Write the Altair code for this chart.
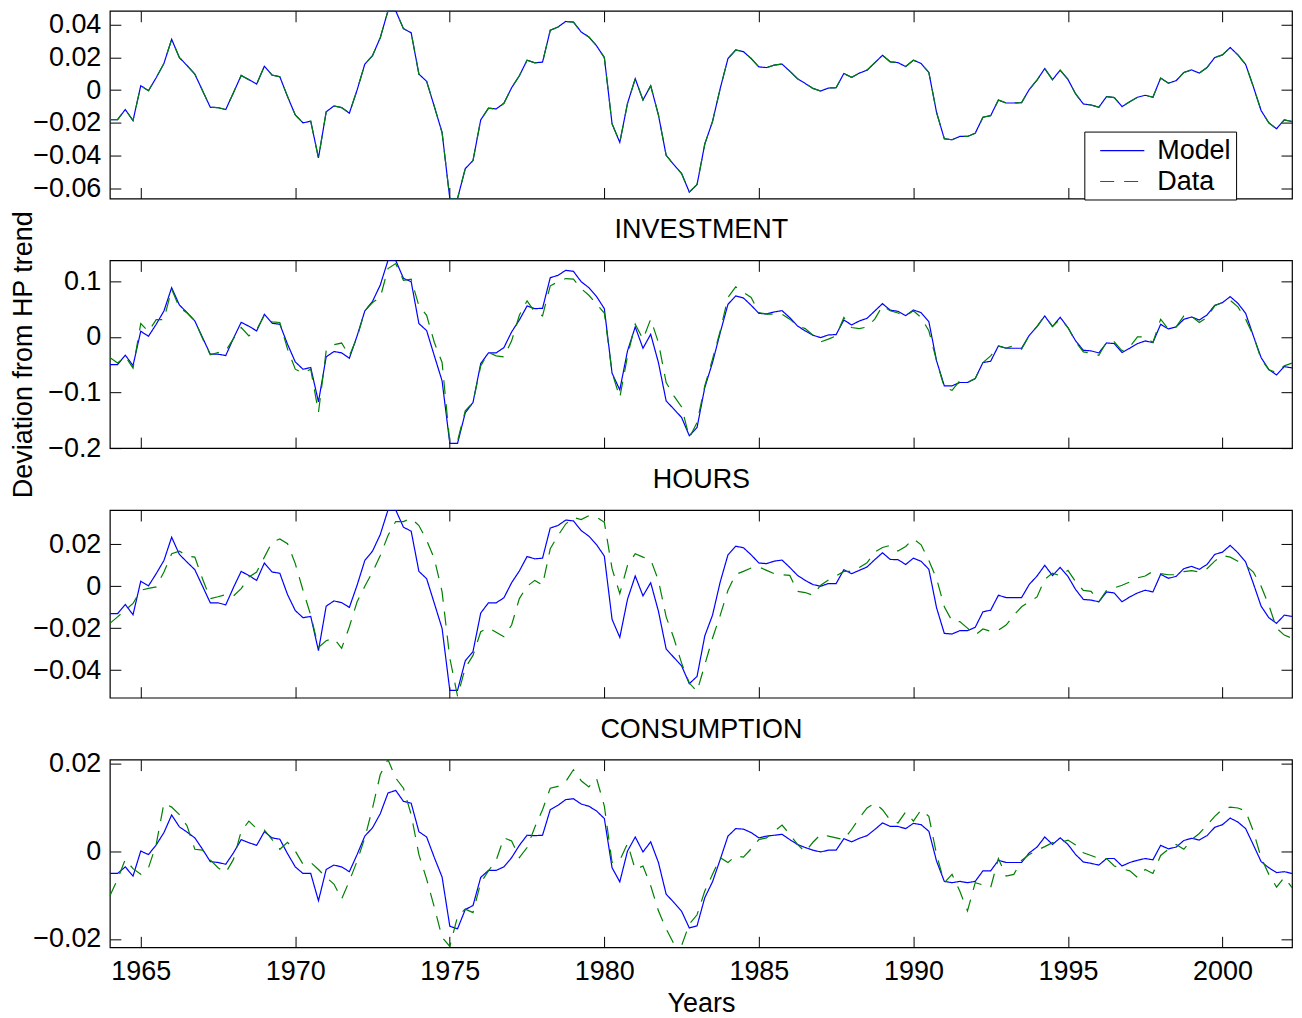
import altair as alt
import pandas as pd

# quarterly dates 1964Q1 .. 2002Q2
years = [1964 + i / 4 for i in range(154)]

# values in units of 0.01 (deviation from HP trend)
output_model = [
    -1.80, -1.80, -1.19, -1.86, 0.26, -0.04, 0.75, 1.62, 3.09, 1.98,
    1.49, 0.97, -0.04, -1.05, -1.07, -1.19, -0.16, 0.89, 0.63, 0.36,
    1.45, 0.91, 0.81, -0.40, -1.52, -2.00, -1.90, -4.14, -1.33, -0.97,
    -1.07, -1.41, 0.00, 1.58, 2.10, 3.19, 4.83, 4.83, 3.74, 3.49,
    0.97, 0.53, -1.01, -2.59, -6.61, -6.61, -4.79, -4.30, -1.82, -1.11,
    -1.15, -0.81, 0.14, 0.87, 1.82, 1.66, 1.70, 3.64, 3.84, 4.18,
    4.14, 3.54, 3.23, 2.69, 1.98, -2.06, -3.19, -0.81, 0.69, -0.61,
    0.26, -1.52, -3.98, -4.55, -5.09, -6.22, -5.76, -3.29, -1.92, 0.10,
    1.92, 2.44, 2.34, 1.92, 1.41, 1.37, 1.52, 1.58, 1.15, 0.69,
    0.40, 0.10, -0.06, 0.12, 0.14, 1.01, 0.77, 1.03, 1.21, 1.66,
    2.12, 1.72, 1.67, 1.43, 1.82, 1.62, 1.07, -1.37, -2.97, -3.03,
    -2.83, -2.83, -2.63, -1.66, -1.56, -0.61, -0.79, -0.79, -0.77, 0.04,
    0.61, 1.31, 0.63, 1.21, 0.65, -0.24, -0.85, -0.91, -1.05, -0.40,
    -0.46, -1.01, -0.71, -0.44, -0.32, -0.44, 0.73, 0.42, 0.57, 1.07,
    1.23, 1.03, 1.37, 1.98, 2.14, 2.59, 2.14, 1.56, 0.20, -1.25,
    -2.00, -2.36, -1.82, -1.92,
]
output_data = [
    -1.80, -1.80, -1.19, -1.86, 0.26, -0.04, 0.75, 1.62, 3.09, 1.98,
    1.49, 0.97, -0.04, -1.05, -1.07, -1.19, -0.16, 0.89, 0.63, 0.36,
    1.45, 0.91, 0.81, -0.40, -1.52, -2.00, -1.90, -4.14, -1.33, -0.97,
    -1.07, -1.41, 0.00, 1.58, 2.10, 3.19, 4.83, 4.83, 3.74, 3.49,
    0.97, 0.53, -1.01, -2.59, -6.61, -6.61, -4.79, -4.30, -1.82, -1.11,
    -1.15, -0.81, 0.14, 0.87, 1.82, 1.66, 1.70, 3.64, 3.84, 4.18,
    4.14, 3.54, 3.23, 2.69, 1.98, -2.06, -3.19, -0.81, 0.69, -0.61,
    0.26, -1.52, -3.98, -4.55, -5.09, -6.22, -5.76, -3.29, -1.92, 0.10,
    1.92, 2.44, 2.34, 1.92, 1.41, 1.37, 1.52, 1.58, 1.15, 0.69,
    0.40, 0.10, -0.06, 0.12, 0.14, 1.01, 0.77, 1.03, 1.21, 1.66,
    2.12, 1.72, 1.67, 1.43, 1.82, 1.62, 1.07, -1.37, -2.97, -3.03,
    -2.83, -2.83, -2.63, -1.66, -1.56, -0.61, -0.79, -0.79, -0.77, 0.04,
    0.61, 1.31, 0.63, 1.21, 0.65, -0.24, -0.85, -0.91, -1.05, -0.40,
    -0.46, -1.01, -0.71, -0.44, -0.32, -0.44, 0.73, 0.42, 0.57, 1.07,
    1.23, 1.03, 1.37, 1.98, 2.14, 2.59, 2.14, 1.56, 0.20, -1.25,
    -2.00, -2.36, -1.82, -1.92,
]
investment_model = [
    -4.97, -4.97, -3.29, -5.15, 1.02, 0.12, 2.28, 4.67, 8.86, 5.75,
    4.37, 2.87, -0.12, -3.11, -3.11, -3.35, -0.24, 2.63, 1.92, 1.08,
    4.07, 2.46, 2.28, -1.32, -4.49, -5.81, -5.51, -11.68, -3.59, -2.63,
    -2.87, -3.83, 0.18, 4.67, 6.41, 9.34, 13.77, 13.77, 10.54, 9.94,
    2.40, 1.14, -3.41, -7.90, -19.16, -19.16, -13.65, -11.80, -4.79, -2.87,
    -2.87, -1.92, 0.90, 3.05, 5.57, 5.09, 5.15, 10.66, 11.08, 11.98,
    11.80, 9.94, 8.86, 7.25, 5.09, -6.53, -9.52, -2.51, 1.80, -2.04,
    0.48, -4.61, -11.50, -12.99, -14.49, -17.78, -16.29, -9.10, -4.61, 0.78,
    5.87, 7.37, 7.01, 5.69, 4.25, 4.13, 4.49, 4.73, 3.47, 1.98,
    1.08, 0.30, -0.12, 0.36, 0.42, 3.05, 2.16, 2.87, 3.35, 4.67,
    5.99, 4.82, 4.61, 3.83, 4.85, 4.37, 2.75, -4.31, -8.80, -8.80,
    -8.20, -8.20, -7.49, -4.61, -4.37, -1.62, -2.04, -2.04, -2.04, 0.30,
    1.86, 3.77, 1.86, 3.53, 1.68, -0.72, -2.40, -2.51, -2.87, -1.08,
    -1.20, -2.81, -2.04, -1.20, -0.72, -1.02, 2.28, 1.44, 1.80, 3.17,
    3.59, 3.05, 3.95, 5.69, 6.17, 7.25, 6.05, 4.25, 0.18, -3.71,
    -5.87, -6.83, -5.33, -5.57,
]
investment_data = [
    -3.7, -4.7, -3.5, -5.6, 2.4, 1.0, 3.1, 3.1, 8.6, 5.3,
    4.3, 2.9, -0.3, -3.2, -2.8, -2.5, -0.3, 1.7, 0.2, 1.3,
    3.9, 2.7, 2.6, -2.2, -5.8, -6.5, -5.8, -13.6, -2.5, -1.4,
    -1.1, -3.4, -0.1, 4.7, 6.2, 7.1, 12.3, 13.2, 10.2, 10.4,
    5.6, 3.9, -1.0, -4.6, -19.0, -18.7, -13.3, -11.8, -5.2, -2.8,
    -3.4, -3.6, -0.7, 3.9, 6.5, 4.5, 3.8, 9.2, 9.9, 10.5,
    10.4, 8.7, 7.5, 5.9, 4.3, -6.4, -10.9, -3.4, 2.3, -0.4,
    3.2, -1.0, -8.2, -10.6, -12.6, -18.1, -15.4, -8.8, -4.0, 1.1,
    7.1, 9.0, 8.0, 7.1, 4.4, 4.1, 4.1, 4.1, 3.2, 2.0,
    1.5, 0.3, -0.9, -0.4, 0.2, 3.5, 1.7, 1.5, 1.8, 3.2,
    5.6, 4.7, 4.3, 3.8, 4.7, 3.5, 1.1, -4.3, -9.1, -9.6,
    -7.9, -8.2, -7.5, -4.6, -3.4, -1.6, -2.0, -1.6, -2.2, 0.3,
    1.9, 3.8, 1.9, 3.2, 1.7, -0.9, -2.7, -2.9, -3.3, -0.9,
    -0.9, -2.5, -1.8, 0.0, 0.0, -1.0, 3.2, 1.4, 1.8, 3.8,
    3.7, 2.6, 3.5, 5.6, 6.2, 6.6, 5.4, 3.2, 0.2, -4.0,
    -5.9, -6.4, -5.2, -4.7,
]
hours_model = [
    -1.31, -1.31, -0.87, -1.36, 0.24, 0.02, 0.60, 1.23, 2.34, 1.52,
    1.15, 0.79, 0.00, -0.79, -0.79, -0.89, -0.06, 0.71, 0.51, 0.28,
    1.11, 0.68, 0.62, -0.40, -1.16, -1.50, -1.44, -3.07, -0.95, -0.70,
    -0.78, -1.01, 0.05, 1.23, 1.68, 2.47, 3.64, 3.64, 2.82, 2.63,
    0.71, 0.36, -0.82, -2.01, -4.97, -4.97, -3.56, -3.12, -1.28, -0.79,
    -0.79, -0.55, 0.17, 0.73, 1.42, 1.31, 1.34, 2.78, 2.90, 3.16,
    3.12, 2.66, 2.39, 1.98, 1.44, -1.58, -2.44, -0.62, 0.49, -0.46,
    0.17, -1.19, -2.99, -3.40, -3.80, -4.65, -4.30, -2.37, -1.38, 0.21,
    1.50, 1.91, 1.84, 1.50, 1.11, 1.08, 1.20, 1.25, 0.90, 0.52,
    0.28, 0.08, 0.00, 0.13, 0.13, 0.79, 0.60, 0.76, 0.92, 1.27,
    1.60, 1.28, 1.27, 1.04, 1.34, 1.19, 0.81, -1.03, -2.25, -2.28,
    -2.12, -2.12, -1.96, -1.22, -1.14, -0.43, -0.54, -0.54, -0.54, 0.09,
    0.49, 1.00, 0.51, 0.90, 0.47, -0.16, -0.63, -0.66, -0.74, -0.27,
    -0.32, -0.74, -0.51, -0.32, -0.19, -0.27, 0.57, 0.38, 0.47, 0.84,
    0.95, 0.81, 1.04, 1.52, 1.63, 1.95, 1.60, 1.16, 0.13, -0.95,
    -1.50, -1.77, -1.38, -1.44,
]
hours_data = [
    -1.77, -1.46, -1.14, -0.82, -0.19, -0.10, -0.03, 0.68, 1.55, 1.68,
    1.45, 1.39, 0.35, -0.59, -0.50, -0.40, -0.46, -0.11, 0.44, 0.68,
    1.39, 2.10, 2.26, 2.03, 1.08, -0.19, -1.38, -2.92, -2.60, -2.48,
    -2.96, -1.93, -0.74, 0.00, 0.68, 1.47, 2.42, 3.09, 3.09, 3.24,
    2.90, 2.20, 1.31, -0.27, -3.43, -5.25, -3.90, -3.30, -2.17, -1.98,
    -2.20, -2.41, -1.85, -0.59, 0.00, 0.28, 0.05, 1.79, 2.42, 2.97,
    3.29, 3.18, 3.37, 3.30, 3.05, 0.84, -0.35, 1.00, 1.55, 1.39,
    1.27, 0.28, -1.46, -2.48, -3.67, -4.62, -5.02, -3.75, -2.48, -1.38,
    -0.19, 0.57, 0.71, 0.87, 0.92, 0.76, 0.60, 0.55, 0.52, -0.24,
    -0.30, -0.43, 0.05, 0.30, 0.49, 0.71, 0.71, 0.90, 1.12, 1.63,
    1.85, 1.95, 1.68, 1.90, 2.26, 1.98, 1.23, 0.36, -0.98, -1.66,
    -1.69, -2.00, -2.33, -2.04, -2.15, -2.10, -1.85, -1.38, -0.98, -0.74,
    -0.51, 0.33, 0.63, 0.50, 0.76, 0.21, -0.20, -0.24, -0.74, -0.19,
    -0.08, 0.05, 0.20, 0.40, 0.49, 0.71, 0.60, 0.55, 0.55, 0.70,
    0.75, 0.68, 0.84, 1.20, 1.47, 1.39, 1.19, 1.00, 0.68, 0.00,
    -0.90, -2.00, -2.33, -2.48,
]
consumption_model = [
    -0.51, -0.51, -0.36, -0.57, 0.00, -0.08, 0.14, 0.42, 0.82, 0.55,
    0.43, 0.30, 0.04, -0.24, -0.26, -0.30, -0.04, 0.26, 0.19, 0.13,
    0.44, 0.30, 0.27, -0.06, -0.36, -0.51, -0.51, -1.13, -0.42, -0.32,
    -0.36, -0.47, -0.08, 0.34, 0.53, 0.85, 1.32, 1.38, 1.13, 1.09,
    0.44, 0.32, -0.15, -0.59, -1.71, -1.77, -1.33, -1.24, -0.60, -0.44,
    -0.44, -0.36, -0.15, 0.13, 0.36, 0.35, 0.36, 0.94, 1.04, 1.17,
    1.19, 1.07, 1.02, 0.91, 0.74, -0.38, -0.70, 0.00, 0.32, -0.02,
    0.21, -0.26, -0.98, -1.17, -1.37, -1.75, -1.70, -1.06, -0.70, -0.19,
    0.34, 0.51, 0.50, 0.42, 0.30, 0.34, 0.36, 0.38, 0.26, 0.15,
    0.08, 0.02, -0.02, 0.02, 0.02, 0.28, 0.21, 0.29, 0.35, 0.49,
    0.64, 0.56, 0.56, 0.51, 0.63, 0.60, 0.45, -0.23, -0.69, -0.72,
    -0.69, -0.72, -0.69, -0.45, -0.45, -0.21, -0.26, -0.26, -0.26, -0.04,
    0.09, 0.32, 0.15, 0.30, 0.15, -0.08, -0.25, -0.28, -0.32, -0.17,
    -0.17, -0.34, -0.26, -0.21, -0.17, -0.20, 0.13, 0.05, 0.09, 0.24,
    0.29, 0.25, 0.35, 0.54, 0.60, 0.75, 0.66, 0.51, 0.14, -0.24,
    -0.38, -0.49, -0.47, -0.51,
]
consumption_data = [
    -1.02, -0.64, -0.19, -0.40, -0.53, -0.38, 0.15, 1.09, 1.00, 0.83,
    0.57, 0.04, 0.02, -0.20, -0.38, -0.49, -0.19, 0.45, 0.68, 0.51,
    0.48, 0.26, 0.04, 0.20, 0.00, -0.30, -0.26, -0.42, -0.60, -0.75,
    -1.09, -0.68, -0.23, 0.30, 0.98, 1.74, 2.08, 1.66, 1.43, 0.83,
    -0.08, -0.64, -1.28, -1.96, -2.17, -1.49, -1.32, -1.40, -0.72, -0.45,
    -0.21, 0.30, 0.23, -0.15, 0.08, 0.54, 0.94, 1.43, 1.47, 1.58,
    1.85, 1.60, 1.46, 1.65, 1.02, -0.26, -0.21, 0.17, -0.42, -0.34,
    -0.79, -1.36, -1.77, -2.11, -2.15, -1.66, -1.45, -0.91, -0.53, -0.15,
    -0.26, -0.11, -0.14, 0.05, 0.26, 0.30, 0.45, 0.59, 0.38, 0.15,
    -0.02, 0.20, 0.38, 0.34, 0.30, 0.26, 0.49, 0.75, 0.98, 1.09,
    0.94, 0.70, 0.64, 0.89, 0.68, 0.94, 0.79, -0.08, -0.72, -0.53,
    -0.91, -1.36, -0.72, -0.77, -0.83, -0.17, -0.57, -0.53, -0.21, -0.08,
    0.02, 0.10, 0.19, 0.19, 0.25, 0.14, -0.04, -0.10, -0.17, -0.17,
    -0.34, -0.40, -0.45, -0.60, -0.42, -0.51, -0.10, 0.04, 0.15, 0.04,
    0.26, 0.40, 0.59, 0.79, 0.95, 1.00, 0.98, 0.91, 0.45, -0.15,
    -0.53, -0.82, -0.60, -0.83,
]

x_ticks = [1965, 1970, 1975, 1980, 1985, 1990, 1995, 2000]
x_domain = [1964, 2002.25]

FONT = "Liberation Sans"
FS = 27
W, H = 1184, 188
TICK = 11
SERIES = ["Model", "Data"]
COLORS = ["#0000ff", "#008000"]
DASHES = [[1, 0], [14, 10]]
LEGEND_LINE = "M-1.7,0L1.7,0"


def make_df(model, data):
    rows = []
    for yr, v in zip(years, model):
        rows.append({"year": yr, "value": v / 100.0, "series": "Model"})
    for yr, v in zip(years, data):
        rows.append({"year": yr, "value": v / 100.0, "series": "Data"})
    return pd.DataFrame(rows)


def panel(model, data, y_domain, y_ticks, title=None, y_title=None,
          bottom=False, legend=False):
    df = make_df(model, data)
    xs = alt.Scale(domain=x_domain, nice=False, zero=False)
    ys = alt.Scale(domain=y_domain, nice=False, zero=False)

    xaxis_kw = dict(orient="bottom", values=x_ticks, format="d", labels=bottom,
                    tickSize=TICK, offset=-TICK, domain=False, grid=False,
                    labelPadding=11)
    if bottom:
        xaxis_kw.update(title="Years", titlePadding=6)
    else:
        xaxis_kw.update(title=None)
    yaxis_kw = dict(orient="left", values=y_ticks, format="~g",
                    tickSize=TICK, offset=-TICK, domain=False, grid=False,
                    labelPadding=9)
    if y_title:
        yaxis_kw.update(title=y_title, titleX=-89, titleBaseline="alphabetic")
    else:
        yaxis_kw.update(title=None)

    topaxis_kw = dict(orient="top", values=x_ticks, labels=False,
                      tickSize=TICK, offset=-TICK, domain=False, grid=False)
    if title:
        topaxis_kw.update(title=title, titleBaseline="alphabetic",
                          titlePadding=22)
    else:
        topaxis_kw.update(title=None)

    if legend:
        leg = alt.Legend(title=None, orient="none", legendX=976, legendY=121,
                         symbolType=LEGEND_LINE, symbolSize=676,
                         symbolStrokeWidth=1.2, symbolOffset=19,
                         labelOffset=21, padding=5, rowPadding=4,
                         labelExpr="datum.label + '\u2009\u2009\u2009'",
                         strokeColor="black", fillColor="white",
                         labelFontSize=FS, labelFont=FONT)
    else:
        leg = None

    color = alt.Color("series:N",
                      scale=alt.Scale(domain=SERIES, range=COLORS),
                      legend=leg)
    dash = alt.StrokeDash("series:N",
                          scale=alt.Scale(domain=SERIES, range=DASHES),
                          legend=leg)

    model_layer = alt.Chart(df).transform_filter(
        "datum.series == 'Model'"
    ).mark_line(clip=True, strokeWidth=1.2).encode(
        x=alt.X("year:Q", scale=xs, axis=alt.Axis(**xaxis_kw)),
        y=alt.Y("value:Q", scale=ys, axis=alt.Axis(**yaxis_kw)),
        color=color,
        strokeDash=dash,
        order="year:Q",
    )
    data_layer = alt.Chart(df).transform_filter(
        "datum.series == 'Data'"
    ).mark_line(clip=True, strokeWidth=1.2).encode(
        x=alt.X("year:Q", scale=xs, axis=None),
        y=alt.Y("value:Q", scale=ys, axis=None),
        color=color,
        strokeDash=dash,
        order="year:Q",
    )
    frame_layer = alt.Chart(df).transform_filter(
        "datum.series == 'Model'"
    ).mark_line(opacity=0, clip=True).encode(
        x=alt.X("year:Q", scale=xs, axis=alt.Axis(**topaxis_kw)),
        y=alt.Y("value:Q", scale=ys,
                axis=alt.Axis(orient="right", values=y_ticks, labels=False,
                              tickSize=TICK, offset=-TICK, domain=False,
                              grid=False, title=None)),
    )
    ch = alt.layer(model_layer, data_layer, frame_layer).resolve_axis(
        x="independent", y="independent"
    )
    return ch.properties(width=W, height=H)


p1 = panel(output_model, output_data, [-0.0661, 0.0483],
           [-0.06, -0.04, -0.02, 0, 0.02, 0.04], legend=True)
p2 = panel(investment_model, investment_data, [-0.2, 0.1377],
           [-0.2, -0.1, 0, 0.1], title="INVESTMENT",
           y_title="Deviation from HP trend")
p3 = panel(hours_model, hours_data, [-0.0532, 0.0364],
           [-0.04, -0.02, 0, 0.02], title="HOURS")
p4 = panel(consumption_model, consumption_data, [-0.0219, 0.0208],
           [-0.02, 0, 0.02], title="CONSUMPTION", bottom=True)

chart = alt.vconcat(p1, p2, p3, p4, spacing=62, bounds="flush").resolve_legend(
    color="independent", strokeDash="independent"
).properties(
    padding={"left": 1, "top": 0, "right": 0, "bottom": 0}
).configure(
    font=FONT
).configure_axis(
    labelFont=FONT, labelFontSize=FS, labelColor="black",
    tickColor="black", tickWidth=1,
    titleFont=FONT, titleFontSize=FS, titleFontWeight="normal",
    titleColor="black",
).configure_view(
    stroke="black", strokeWidth=1.2
)

chart.save("out.html", embed_options={"renderer": "svg", "actions": False})
